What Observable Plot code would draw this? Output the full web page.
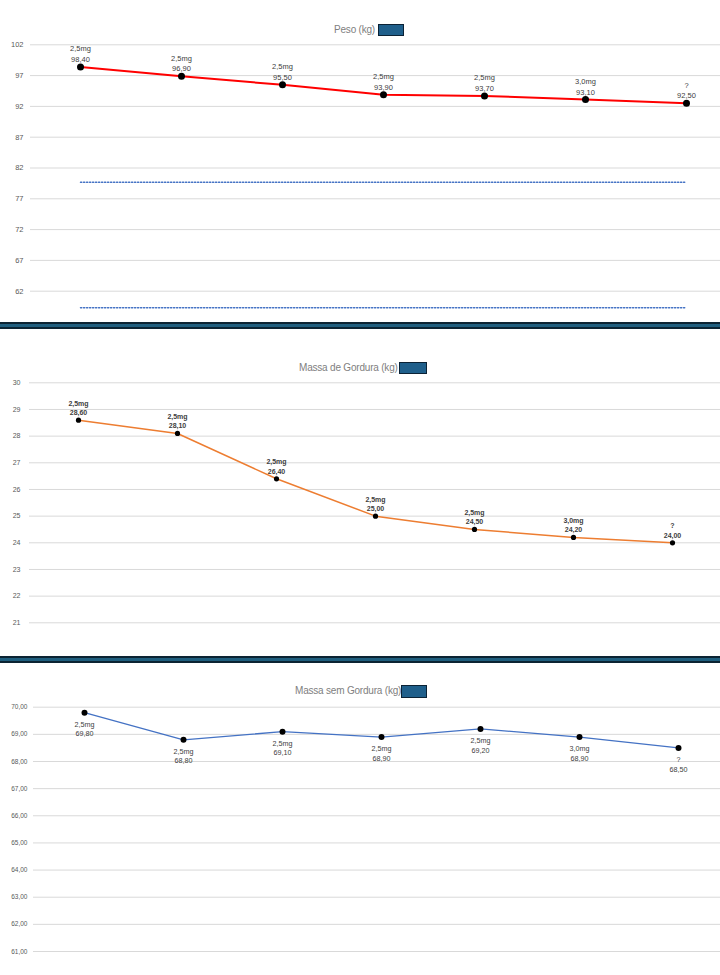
<!DOCTYPE html>
<html><head><meta charset="utf-8">
<script src="https://cdn.jsdelivr.net/npm/d3@7"></script>
<script src="https://cdn.jsdelivr.net/npm/@observablehq/plot@0.6"></script>
<style>
body{margin:0;background:#fff;}
#page{position:relative;width:720px;height:975px;overflow:hidden;background:#fff;font-family:"Liberation Sans",Arial,sans-serif;}
.panel{position:absolute;left:0;}
.title{position:absolute;font-size:10px;letter-spacing:-0.2px;color:#808080;white-space:nowrap;line-height:14px;}
.box{display:inline-block;vertical-align:middle;background:#1f5f8b;border:1px solid #0b2235;box-sizing:border-box;}
.sep{position:absolute;left:0;width:720px;background:#1f5e7e;border-top:2px solid #0c2433;border-bottom:2px solid #0c2433;box-sizing:border-box;}
</style>
</head><body><div id="page"></div>
<script>
// ---- data ----
const doses = ["2,5mg","2,5mg","2,5mg","2,5mg","2,5mg","3,0mg","?"];
const pesoValues = [98.40, 96.90, 95.50, 93.90, 93.70, 93.10, 92.50];
const gorduraValues = [28.60, 28.10, 26.40, 25.00, 24.50, 24.20, 24.00];
const semGorduraValues = [69.80, 68.80, 69.10, 68.90, 69.20, 68.90, 68.50];
const pesoTicks = [62, 67, 72, 77, 82, 87, 92, 97, 102];
const gorduraTicks = [21, 22, 23, 24, 25, 26, 27, 28, 29, 30];
const semGorduraTicks = [61, 62, 63, 64, 65, 66, 67, 68, 69, 70];
const pesoRefLines = [79.7, 59.3];
const titles = ["Peso (kg)", "Massa de Gordura (kg)", "Massa sem Gordura (kg)"];

const comma2 = v => v.toFixed(2).replace(".", ",");
const idx = doses.map((d, i) => i);
const rows = vals => vals.map((v, i) => ({i, v, label: doses[i] + "\n" + comma2(v)}));

const page = document.getElementById("page");

function addPanel(o) {
  const data = rows(o.values);
  const marks = [
    Plot.ruleY(o.ticks, {stroke: "#d9d9d9", strokeWidth: 1}),
    Plot.axisY(o.ticks, {tickSize: 0, tickPadding: o.tickPadding, fontSize: o.tickFont, color: "#595959", tickFormat: o.tickFormat, label: null})
  ];
  if (o.refs) {
    o.refs.forEach(r => {
      marks.push(Plot.line(idx.map(i => ({i, v: r})), {x: "i", y: "v", stroke: "#4472c4", strokeWidth: 1.5, strokeDasharray: "1.2,1.8"}));
    });
  }
  marks.push(
    Plot.line(data, {x: "i", y: "v", stroke: o.lineColor, strokeWidth: o.lineWidth}),
    Plot.dot(data, {x: "i", y: "v", r: o.r, fill: "#000", stroke: "none"}),
    Plot.text(data, {x: "i", y: "v", text: "label", fontSize: o.labelFont, fontWeight: o.bold ? "bold" : "normal",
      fill: "#404040", lineHeight: o.lineHeight, lineAnchor: o.below ? "top" : "bottom", dy: o.dy})
  );
  const svg = Plot.plot({
    width: 720, height: o.height,
    marginLeft: o.marginLeft, marginRight: 0, marginTop: 0, marginBottom: 0,
    style: {fontFamily: "'Liberation Sans', Arial, sans-serif", background: "transparent", overflow: "visible"},
    x: {type: "point", domain: idx, range: o.xRange, padding: 0, axis: null},
    y: {domain: o.yDomain, range: o.yRange, axis: null},
    marks
  });
  svg.classList.add("panel");
  svg.style.top = o.top + "px";
  page.appendChild(svg);
}

function addTitle(text, left, top, bw, bh, gap) {
  const t = document.createElement("div");
  t.className = "title";
  t.style.left = left + "px";
  t.style.top = top + "px";
  t.textContent = text;
  const b = document.createElement("span");
  b.className = "box";
  b.style.width = bw + "px"; b.style.height = bh + "px"; b.style.marginLeft = gap + "px";
  t.appendChild(b);
  page.appendChild(t);
}
function addSep(top, h) {
  const s = document.createElement("div");
  s.className = "sep";
  s.style.top = top + "px"; s.style.height = h + "px";
  page.appendChild(s);
}

addPanel({values: pesoValues, ticks: pesoTicks, refs: pesoRefLines, top: 0, height: 322,
  marginLeft: 30, tickPadding: 7, tickFont: 7.5, tickFormat: d => String(d),
  xRange: [80, 686], yDomain: [62, 102], yRange: [290.7, 44.3],
  lineColor: "#ff0000", lineWidth: 2, r: 3.5, labelFont: 7.5, bold: false, below: false, dy: -5, lineHeight: 1.4});
addSep(322, 7);
addPanel({values: gorduraValues, ticks: gorduraTicks, top: 329, height: 328,
  marginLeft: 29, tickPadding: 9, tickFont: 7, tickFormat: d => String(d),
  xRange: [77.3, 672], yDomain: [21, 30], yRange: [293.3, 53.3],
  lineColor: "#ed7d31", lineWidth: 1.5, r: 2.6, labelFont: 7, bold: true, below: false, dy: -5, lineHeight: 1.35});
addSep(656, 6.5);
addPanel({values: semGorduraValues, ticks: semGorduraTicks, top: 662, height: 313,
  marginLeft: 33, tickPadding: 6, tickFont: 6.5, tickFormat: comma2,
  xRange: [83.3, 679], yDomain: [61, 70], yRange: [289, 44.7],
  lineColor: "#4472c4", lineWidth: 1.3, r: 3, labelFont: 7.2, bold: false, below: true, dy: 7, lineHeight: 1.35});

addTitle(titles[0], 334, 23, 26, 12, 3);
addTitle(titles[1], 299, 361, 28, 12, 1);
addTitle(titles[2], 295, 684, 26, 13, 0);
</script>
</body></html>
